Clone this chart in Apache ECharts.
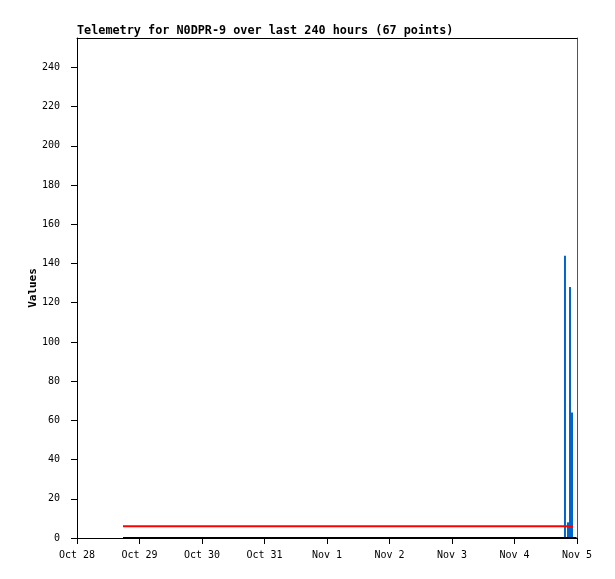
<!DOCTYPE html>
<html>
<head>
<meta charset="utf-8">
<script src="https://cdn.jsdelivr.net/npm/echarts@6/dist/echarts.min.js"></script>
<style>
  html, body { margin: 0; padding: 0; background: #fff; }
  #chart { width: 615px; height: 579px; }
</style>
</head>
<body>
<div id="chart"></div>
<script>
// telemetry, times in UTC
const dayLabels = ['Oct 28', 'Oct 29', 'Oct 30', 'Oct 31', 'Nov 1', 'Nov 2', 'Nov 3', 'Nov 4', 'Nov 5'];
const blackTimes = ['2023-10-28T17:40:00Z', '2023-11-04T23:50:00Z'];
const blackValues = [0, 0];
const redTimes = ['2023-10-28T17:40:00Z', '2023-11-04T22:28:00Z'];
const redValues = [6, 6];
const blueTimes = ['2023-11-04T19:23:00Z', '2023-11-04T20:33:00Z', '2023-11-04T21:19:00Z', '2023-11-04T22:05:00Z'];
const blueValues = [144, 8, 128, 64];

const DAY = 86400000;
const xMin = Date.parse('2023-10-28T00:00:00Z');
const xMax = Date.parse('2023-11-05T00:00:00Z');
const mono = 'DejaVu Sans Mono';

function pairs(times, vals) {
  return times.map((t, i) => [Date.parse(t), vals[i]]);
}

const myChart = echarts.init(document.getElementById('chart'));
const option = {
  animation: false,
  title: {
    text: 'Telemetry for N0DPR-9 over last 240 hours (67 points)',
    left: 77,
    top: 25,
    padding: 0,
    textStyle: { fontFamily: mono, fontSize: 11.8, fontWeight: 'bold', color: '#000' }
  },
  grid: { left: 77, right: 38, top: 38, bottom: 41 },
  xAxis: [
    {
      type: 'value',
      min: xMin,
      max: xMax,
      interval: DAY,
      axisLine: { onZero: false, lineStyle: { color: '#000', width: 1 } },
      axisTick: { length: 6, lineStyle: { color: '#000' } },
      axisLabel: {
        margin: 12,
        color: '#000',
        fontFamily: mono,
        fontSize: 10,
        formatter: v => dayLabels[Math.round((v - xMin) / DAY)] || ''
      },
      splitLine: { show: false }
    },
    {
      type: 'value',
      position: 'top',
      min: xMin,
      max: xMax,
      axisLine: { show: true, onZero: false, lineStyle: { color: '#000' } },
      axisTick: { show: false },
      axisLabel: { show: false },
      splitLine: { show: false }
    }
  ],
  yAxis: [
    {
      type: 'value',
      min: 0,
      max: 255,
      interval: 20,
      name: 'Values',
      nameLocation: 'middle',
      nameGap: 38,
      nameMoveOverlap: false,
      nameTextStyle: { fontFamily: mono, fontSize: 11, fontWeight: 'bold', color: '#000' },
      axisLine: { show: true, onZero: false, lineStyle: { color: '#000' } },
      axisTick: { length: 6, lineStyle: { color: '#000' } },
      axisLabel: { margin: 17, color: '#000', fontFamily: mono, fontSize: 10, showMaxLabel: false },
      splitLine: { show: false }
    },
    {
      type: 'value',
      position: 'right',
      min: 0,
      max: 255,
      axisLine: { show: true, onZero: false, lineStyle: { color: '#555' } },
      axisTick: { show: false },
      axisLabel: { show: false },
      splitLine: { show: false }
    }
  ],
  series: [
    {
      type: 'bar',
      barWidth: 2,
      itemStyle: { color: '#0066cc' },
      data: pairs(blueTimes, blueValues)
    },
    {
      type: 'line',
      symbol: 'none',
      lineStyle: { color: '#ff0000', width: 2 },
      data: pairs(redTimes, redValues)
    },
    {
      type: 'line',
      symbol: 'none',
      lineStyle: { color: '#000', width: 2 },
      data: pairs(blackTimes, blackValues)
    }
  ]
};
myChart.setOption(option);
</script>
</body>
</html>
